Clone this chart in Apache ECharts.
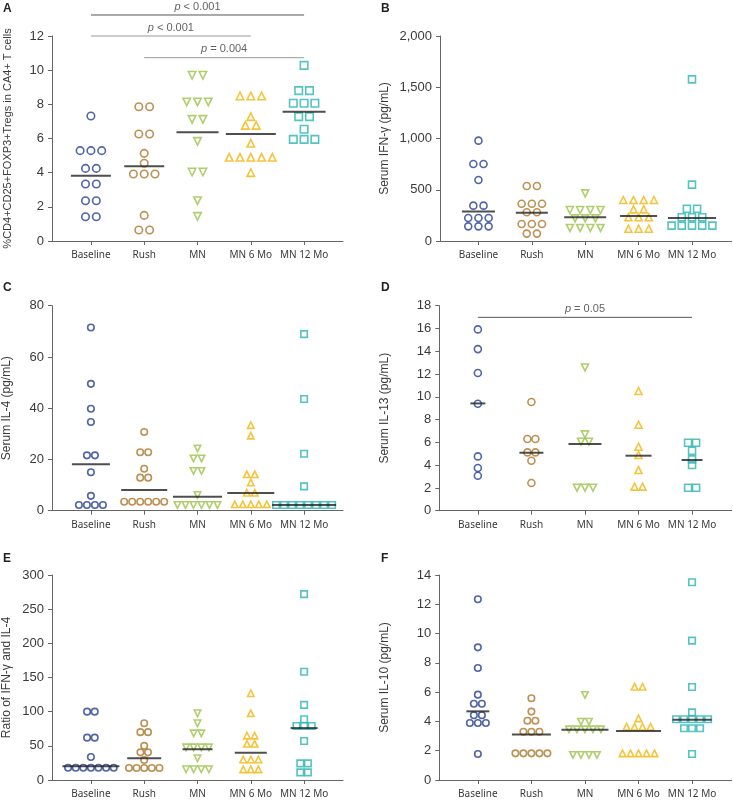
<!DOCTYPE html>
<html><head><meta charset="utf-8">
<script src="https://cdn.jsdelivr.net/npm/echarts@6/dist/echarts.min.js"></script>
<style>html,body{margin:0;padding:0;background:#fff}#c{width:733px;height:801px}</style>
</head><body><div id="c"></div>
<script>
const categories = ['Baseline', 'Rush', 'MN', 'MN 6 Mo', 'MN 12 Mo'];

// Panel A: %CD4+CD25+FOXP3+Tregs
const tregTicks = [0, 2, 4, 6, 8, 10, 12];
const tregBaseline = [7.32, 5.29, 5.29, 5.29, 4.25, 4.25, 3.34, 3.34, 2.36, 2.36, 1.42, 1.42];
const tregRush = [7.86, 7.86, 6.26, 6.26, 5.13, 4.55, 3.92, 3.92, 3.92, 1.5, 0.64, 0.64];
const tregMN = [9.7, 9.7, 8.14, 8.14, 8.14, 7.12, 7.12, 5.83, 4.04, 4.04, 2.36, 1.44];
const tregMN6 = [8.49, 8.49, 8.49, 7.28, 6.77, 6.77, 5.72, 4.9, 4.9, 4.9, 4.9, 4.9, 4.0];
const tregMN12 = [10.28, 8.8, 8.8, 8.06, 8.06, 8.06, 7.28, 7.28, 6.54, 5.95, 5.95, 5.95];
const tregCenter = [3.82, 4.37, 6.36, 6.26, 7.57];

// Panel B: Serum IFN-gamma
const ifnTicks = [0, 500, 1000, 1500, 2000];
const ifnBaseline = [979, 751, 751, 595, 345, 345, 224, 224, 224, 143, 143, 143];
const ifnRush = [537, 537, 364, 364, 364, 280, 280, 166, 166, 166, 72, 72];
const ifnMN = [465, 302, 302, 302, 302, 221, 221, 221, 127, 127, 127, 127];
const ifnMN6 = [400, 400, 400, 400, 309, 309, 231, 231, 231, 120, 120, 120];
const ifnMN12 = [1577, 550, 315, 315, 231, 231, 231, 150, 150, 150, 150, 150];
const ifnCenter = [289, 276, 231, 244, 224];

// Panel C: Serum IL-4
const il4Ticks = [0, 20, 40, 60, 80];
const il4Baseline = [71.5, 49.5, 39.8, 34.6, 21.6, 21.6, 15.0, 5.8, 2.2, 2.2, 2.2, 2.2];
const il4Rush = [30.7, 22.8, 22.8, 16.4, 12.9, 12.9, 3.5, 3.5, 3.5, 3.5, 3.5, 3.5];
const il4MN = [24.3, 20.4, 20.4, 15.5, 15.5, 6.1, 2.2, 2.2, 2.2, 2.2, 2.2, 2.2];
const il4MN6 = [33.4, 29.3, 14.2, 14.2, 11.0, 7.0, 7.0, 2.5, 2.5, 2.5, 2.5, 2.5];
const il4MN12 = [68.9, 43.6, 22.2, 9.5, 2.2, 2.2, 2.2, 2.2, 2.2, 2.2, 2.2, 2.2];
const il4Center = [18.1, 8.1, 5.4, 6.9, 2.2];

// Panel D: Serum IL-13
const il13Ticks = [0, 2, 4, 6, 8, 10, 12, 14, 16, 18];
const il13Baseline = [15.92, 14.19, 12.09, 9.39, 4.77, 3.75, 3.07];
const il13Rush = [9.54, 6.29, 6.29, 5.12, 5.12, 4.39, 2.43];
const il13MN = [12.58, 6.7, 6.06, 6.06, 2.02, 2.02, 2.02];
const il13MN6 = [10.51, 7.55, 5.62, 4.89, 3.57, 2.11, 2.11];
const il13MN12 = [5.97, 5.97, 5.27, 4.51, 4.01, 2.02, 2.02];
const il13Center = [9.42, 5.09, 5.85, 4.83, 4.45];

// Panel E: Ratio of IFN-gamma and IL-4
const ratioTicks = [0, 50, 100, 150, 200, 250, 300];
const ratioBaseline = [100, 100, 62, 62, 33.7, 18, 18, 18, 18, 18, 18, 18];
const ratioRush = [83, 70, 70, 50, 40.5, 40.5, 29.3, 17.6, 17.6, 17.6, 17.6, 17.6];
const ratioMN = [97.6, 83, 68.3, 68.3, 47.8, 47.8, 47.8, 47.8, 31.8, 15.7, 15.7, 15.7, 15.7];
const ratioMN6 = [127, 97.6, 65, 65, 53, 53, 30, 30, 30, 15.6, 15.6, 15.6];
const ratioMN12 = [272, 158.5, 110, 89, 79, 79, 79, 57, 24.4, 24.4, 11.2, 11.2];
const ratioCenter = [20, 31.7, 45, 40, 76];

// Panel F: Serum IL-10
const il10Ticks = [0, 2, 4, 6, 8, 10, 12, 14];
const il10Baseline = [12.34, 9.06, 7.65, 5.83, 5.21, 5.21, 4.42, 4.42, 3.89, 3.89, 3.89, 1.78];
const il10Rush = [5.58, 4.67, 4.05, 4.05, 3.3, 3.3, 3.3, 1.82, 1.82, 1.82, 1.82, 1.82];
const il10MN = [5.81, 3.98, 3.98, 3.46, 3.46, 3.46, 3.46, 3.46, 1.71, 1.71, 1.71, 1.71];
const il10MN6 = [6.37, 6.37, 4.21, 3.64, 3.64, 3.64, 3.64, 1.82, 1.82, 1.82, 1.82, 1.82];
const il10MN12 = [13.5, 9.52, 6.35, 4.62, 4.15, 4.15, 4.15, 4.15, 4.15, 3.53, 3.53, 3.53, 1.78];
const il10Center = [4.69, 3.1, 3.44, 3.35, 4.12];

// Significance annotations
const tregSig = [
  { from: 0, to: 4, y: 13.23, text: '< 0.001' },
  { from: 0, to: 3, y: 12.0, text: '< 0.001' },
  { from: 1, to: 4, y: 10.73, text: '= 0.004' }
];
const il13Sig = [{ from: 0, to: 4, y: 16.98, text: '= 0.05' }];

const panels = [
  { id: 'A', yName: '%CD4+CD25+FOXP3+Tregs in CA4+ T cells', ticks: tregTicks, groups: [tregBaseline, tregRush, tregMN, tregMN6, tregMN12], center: tregCenter, sig: tregSig },
  { id: 'B', yName: 'Serum IFN-γ (pg/mL)', ticks: ifnTicks, groups: [ifnBaseline, ifnRush, ifnMN, ifnMN6, ifnMN12], center: ifnCenter, sig: [] },
  { id: 'C', yName: 'Serum IL-4 (pg/mL)', ticks: il4Ticks, groups: [il4Baseline, il4Rush, il4MN, il4MN6, il4MN12], center: il4Center, sig: [] },
  { id: 'D', yName: 'Serum IL-13 (pg/mL)', ticks: il13Ticks, groups: [il13Baseline, il13Rush, il13MN, il13MN6, il13MN12], center: il13Center, sig: il13Sig },
  { id: 'E', yName: 'Ratio of IFN-γ and IL-4', ticks: ratioTicks, groups: [ratioBaseline, ratioRush, ratioMN, ratioMN6, ratioMN12], center: ratioCenter, sig: [] },
  { id: 'F', yName: 'Serum IL-10 (pg/mL)', ticks: il10Ticks, groups: [il10Baseline, il10Rush, il10MN, il10MN6, il10MN12], center: il10Center, sig: [] }
];

// ---------- styling / layout ----------
const colors = ['#253f91', '#ad7628', '#9cc24a', '#f2b50c', '#2bb4b4'];
const symbols = ['circle', 'circle', 'triangle', 'triangle', 'rect'];
const rotations = [0, 0, 180, 0, 0];
const layout = {
  A: { left: 52, top: 36, width: 291, height: 205, xMin: -0.73, xMax: 4.73, spacing: 10.8, size: 7.5, nameGap: 39, nameSize: 11, lineW: [40, 40, 42, 50, 43], title: [3, 3] },
  B: { left: 440, top: 36, width: 291.5, height: 205, xMin: -0.72, xMax: 4.74, spacing: 10.2, size: 7, nameGap: 49, nameSize: 12, lineW: [33, 32, 42, 37, 48], title: [381, 3] },
  C: { left: 52, top: 305.7, width: 291, height: 205, xMin: -0.73, xMax: 4.73, spacing: 8, size: 6.5, nameGap: 39, nameSize: 12, lineW: [38, 46, 49, 47, 64], title: [3, 282] },
  D: { left: 439.3, top: 305.7, width: 292.4, height: 205, xMin: -0.72, xMax: 4.74, spacing: 8, size: 7, nameGap: 49, nameSize: 12, lineW: [15, 24, 33, 26, 21], title: [381, 282] },
  E: { left: 52, top: 575, width: 291, height: 205, xMin: -0.73, xMax: 4.73, spacing: 7.6, size: 6.5, nameGap: 39, nameSize: 12, lineW: [57, 34, 30, 32, 27], title: [3, 553] },
  F: { left: 439.3, top: 575, width: 292.4, height: 205, xMin: -0.72, xMax: 4.74, spacing: 8, size: 6.5, nameGap: 49, nameSize: 12, lineW: [23, 39, 47, 45, 39], title: [381, 553] }
};
const axisColor = '#666';
const textColor = '#3a3a3a';

// Spread equal values horizontally (dot-plot layout)
function swarm(values, catIndex, dxUnit) {
  const counts = {};
  values.forEach(v => { counts[v] = (counts[v] || 0) + 1; });
  const seen = {};
  return values.map(v => {
    const k = counts[v];
    const j = seen[v] = (seen[v] === undefined ? 0 : seen[v] + 1);
    return [catIndex + (j - (k - 1) / 2) * dxUnit, v];
  });
}

const option = {
  animation: false,
  backgroundColor: '#fff',
  title: [], grid: [], xAxis: [], yAxis: [], series: []
};

panels.forEach((p, pi) => {
  const L = layout[p.id];
  const pxPerUnit = L.width / (L.xMax - L.xMin);
  const dxUnit = L.spacing / pxPerUnit;
  option.title.push({
    text: p.id, left: L.title[0], top: L.title[1], padding: 0,
    textStyle: { fontFamily: 'Liberation Sans', fontWeight: 'bold', fontSize: 12, color: '#222' }
  });
  option.grid.push({ left: L.left, top: L.top, width: L.width, height: L.height, containLabel: false, outerBoundsMode: 'none' });
  const catVals = categories.map((c, i) => i);
  option.xAxis.push({
    gridIndex: pi, type: 'value', min: L.xMin, max: L.xMax,
    axisLine: { show: true, onZero: false, lineStyle: { color: axisColor, width: 1 } },
    axisTick: { show: true, customValues: catVals, length: 4, lineStyle: { color: axisColor } },
    axisLabel: { show: true, customValues: catVals, formatter: v => categories[Math.round(v)], fontFamily: 'Noto Sans', fontSize: 10, color: textColor, margin: 9 },
    splitLine: { show: false }
  });
  const tmax = p.ticks[p.ticks.length - 1];
  option.yAxis.push({
    gridIndex: pi, type: 'value', min: p.ticks[0], max: tmax, interval: p.ticks[1] - p.ticks[0],
    axisLine: { show: true, onZero: false, lineStyle: { color: axisColor, width: 1 } },
    axisTick: { show: true, length: 4, lineStyle: { color: axisColor } },
    axisLabel: { fontFamily: 'Liberation Sans', fontSize: 13, color: textColor, margin: 8, formatter: v => v.toLocaleString('en-US') },
    splitLine: { show: false },
    name: p.yName, nameLocation: 'middle', nameGap: L.nameGap,
    nameTextStyle: { fontFamily: 'Liberation Sans', fontSize: L.nameSize, color: textColor }
  });
  p.groups.forEach((vals, gi) => {
    option.series.push({
      type: 'scatter', xAxisIndex: pi, yAxisIndex: pi, silent: true,
      symbol: symbols[gi], symbolRotate: rotations[gi], symbolSize: L.size,
      itemStyle: { color: 'rgba(0,0,0,0)', borderColor: colors[gi], borderWidth: 1.6 },
      data: swarm(vals, gi, dxUnit), z: 2
    });
  });
  option.series.push({
    type: 'scatter', xAxisIndex: pi, yAxisIndex: pi, silent: true,
    symbol: 'rect',
    symbolSize: (val, params) => [L.lineW[params.dataIndex], 2],
    itemStyle: { color: '#222' },
    data: p.center.map((v, i) => [i, v]), z: 3
  });
  p.sig.forEach((s, si) => {
    const lineColor = (p.id === 'A' && si > 0) ? '#999' : '#555';
    option.series.push({
      type: 'line', xAxisIndex: pi, yAxisIndex: pi, silent: true, clip: false,
      symbol: 'none', lineStyle: { color: lineColor, width: 1 },
      data: [[s.from, s.y], [s.to, s.y]], z: 1
    });
    option.series.push({
      type: 'scatter', xAxisIndex: pi, yAxisIndex: pi, silent: true, clip: false,
      symbolSize: 0, data: [[(s.from + s.to) / 2, s.y]],
      label: {
        show: true, position: 'top', distance: 3,
        formatter: '{i|p} ' + s.text,
        fontFamily: 'Liberation Sans', fontSize: 11, color: textColor,
        rich: { i: { fontStyle: 'italic', fontFamily: 'Liberation Sans', fontSize: 11, color: textColor } }
      }
    });
  });
});

const chart = echarts.init(document.getElementById('c'));
chart.setOption(option);
</script>
</body></html>
